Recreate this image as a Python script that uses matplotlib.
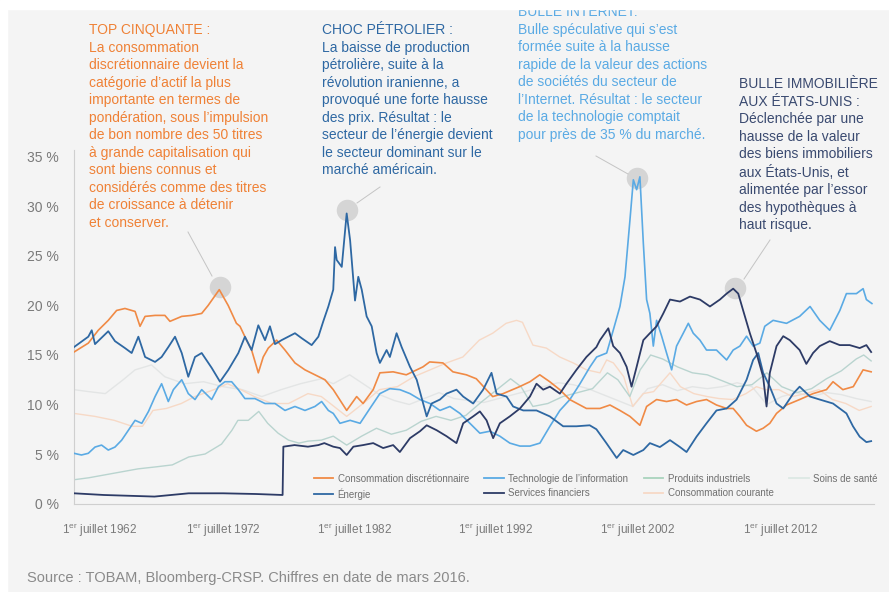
import matplotlib
matplotlib.use("Agg")
import matplotlib.pyplot as plt
from matplotlib.lines import Line2D
from matplotlib.patches import Rectangle

# =========================
# DATA (poids des secteurs, % du marché)
# =========================
cd_years = [1962.5, 1963.46, 1964.13, 1964.8, 1965.36, 1965.92, 1966.6, 1966.93, 1967.27, 1967.94,
            1968.6, 1968.94, 1969.73, 1970.4, 1971.07, 1971.5, 1972.25, 1972.85, 1973.4, 1973.64,
            1974.08, 1974.42, 1974.87, 1975.2, 1975.54, 1976.1, 1976.66, 1977.33, 1978.0, 1978.67,
            1979.34, 1979.9, 1980.8, 1981.47, 1981.9, 1982.58, 1983.03, 1983.92, 1984.8, 1985.92,
            1986.37, 1987.26, 1987.93, 1988.83, 1989.5, 1990.17, 1990.6, 1991.3, 1992.4, 1993.1,
            1993.76, 1994.43, 1995.1, 1995.77, 1996.89, 1997.8, 1998.47, 1999.14, 1999.81, 2000.48,
            2000.93, 2001.6, 2002.27, 2002.94, 2003.61, 2004.28, 2004.95, 2005.62, 2006.3, 2006.74,
            2007.19, 2007.64, 2008.3, 2008.75, 2009.2, 2009.65, 2010.32, 2011.2, 2012.1, 2013.0,
            2013.44, 2014.1, 2014.8, 2015.46, 2016.0]
cd_vals = [15.3, 16.2, 17.5, 18.5, 19.5, 19.7, 19.4, 17.9, 18.9, 19.0,
           19.0, 18.4, 18.9, 19.0, 19.2, 20.0, 21.6, 20.0, 18.2, 17.9,
           16.5, 15.5, 13.2, 14.8, 15.7, 16.5, 15.5, 14.2, 13.5, 13.0,
           12.5, 11.5, 9.4, 10.8, 10.1, 11.5, 13.2, 13.3, 13.0, 13.8,
           14.3, 14.2, 13.3, 13.0, 12.6, 11.5, 10.8, 11.1, 11.8, 12.3,
           13.0, 12.3, 11.5, 10.5, 9.6, 9.6, 9.95, 9.4, 8.8, 7.9,
           9.8, 10.5, 10.3, 10.5, 9.95, 10.3, 10.5, 9.95, 9.6, 9.6,
           8.8, 7.9, 7.3, 7.6, 8.1, 9.1, 9.95, 10.5, 11.1, 11.5,
           12.3, 11.5, 11.8, 13.5, 13.3]

en_years = [1962.5, 1963.46, 1963.69, 1963.91, 1964.8, 1965.25, 1965.92, 1966.37, 1966.82, 1967.27,
            1967.94, 1968.38, 1968.83, 1969.28, 1969.73, 1970.17, 1970.62, 1971.07, 1971.74, 1972.3,
            1972.86, 1973.53, 1973.97, 1974.42, 1974.87, 1975.32, 1975.65, 1975.99, 1976.43, 1976.88,
            1977.33, 1977.78, 1978.45, 1978.9, 1979.23, 1979.57, 1979.9, 1980.02, 1980.13, 1980.47,
            1980.8, 1981.03, 1981.36, 1981.58, 1981.81, 1982.14, 1982.48, 1982.81, 1983.03, 1983.48,
            1983.7, 1984.15, 1984.49, 1985.05, 1985.5, 1986.17, 1986.5, 1987.06, 1987.5, 1988.17,
            1988.62, 1989.29, 1989.96, 1990.52, 1990.86, 1991.53, 1991.97, 1992.65, 1993.54, 1994.43,
            1995.33, 1996.22, 1997.11, 1997.56, 1998.23, 1998.92, 1999.36, 2000.04, 2000.71, 2001.15,
            2001.82, 2002.5, 2003.17, 2003.61, 2004.28, 2004.95, 2005.62, 2006.3, 2006.97, 2007.64,
            2008.08, 2008.42, 2008.75, 2009.2, 2009.65, 2010.1, 2010.77, 2011.2, 2011.9, 2012.55,
            2013.44, 2014.34, 2014.78, 2015.23, 2015.68, 2016.0]
en_vals = [15.8, 16.85, 17.5, 16.1, 17.4, 16.4, 15.7, 15.2, 16.85, 14.8,
           14.3, 14.8, 15.8, 16.85, 15.2, 12.8, 14.8, 15.2, 13.7, 12.3,
           13.5, 15.2, 16.85, 15.5, 18.0, 16.5, 17.9, 16.1, 16.5, 16.85,
           17.2, 16.7, 16.0, 16.85, 18.4, 19.9, 21.6, 25.9, 24.6, 23.9,
           29.3, 26.6, 20.5, 22.9, 21.6, 18.9, 17.9, 15.2, 14.2, 15.5,
           14.8, 17.2, 15.8, 13.8, 12.5, 8.8, 10.1, 10.5, 11.1, 11.5,
           10.8, 10.1, 11.5, 13.2, 11.1, 10.8, 9.8, 9.4, 9.4, 8.8,
           7.8, 7.8, 7.9, 7.5, 6.1, 4.6, 5.4, 4.9, 5.4, 6.1,
           5.7, 6.4, 5.7, 5.2, 6.75, 8.1, 9.4, 9.6, 10.5, 12.5,
           14.5, 15.2, 13.2, 11.8, 10.1, 9.6, 11.1, 11.8, 10.8, 10.5,
           10.1, 9.1, 7.8, 6.75, 6.2, 6.3]

it_years = [1962.5, 1963.0, 1963.46, 1963.91, 1964.35, 1964.8, 1965.25, 1965.7, 1966.15, 1966.6,
            1967.05, 1967.5, 1967.94, 1968.38, 1968.83, 1969.17, 1969.73, 1970.17, 1970.62, 1971.07,
            1971.74, 1972.19, 1972.63, 1973.08, 1973.53, 1973.97, 1974.64, 1975.32, 1975.99, 1976.66,
            1977.33, 1978.0, 1978.67, 1979.12, 1979.57, 1979.9, 1980.35, 1981.03, 1981.7, 1982.36,
            1983.03, 1983.7, 1984.37, 1985.05, 1985.72, 1986.39, 1987.06, 1987.73, 1988.4, 1989.07,
            1989.74, 1990.41, 1991.08, 1991.75, 1992.43, 1993.1, 1993.77, 1994.44, 1995.11, 1995.78,
            1996.46, 1997.13, 1997.58, 1998.25, 1998.69, 1999.14, 1999.48, 1999.81, 2000.04, 2000.26,
            2000.48, 2000.71, 2000.93, 2001.15, 2001.38, 2001.6, 2001.94, 2002.27, 2002.61, 2002.94,
            2003.39, 2003.73, 2004.06, 2004.51, 2004.95, 2005.62, 2006.3, 2006.74, 2007.19, 2007.64,
            2008.08, 2008.53, 2008.86, 2009.42, 2010.32, 2011.2, 2011.9, 2012.55, 2013.22, 2013.9,
            2014.34, 2015.01, 2015.46, 2015.68, 2016.05]
it_vals = [5.07, 4.9, 5.07, 5.7, 5.9, 5.4, 5.7, 6.4, 7.4, 8.4,
           8.1, 9.3, 10.8, 12.1, 10.3, 11.5, 12.5, 11.1, 10.5, 11.5,
           10.5, 11.8, 12.3, 12.3, 11.5, 10.6, 10.6, 10.1, 10.1, 9.4,
           9.8, 9.4, 9.8, 10.3, 9.4, 9.1, 8.1, 8.4, 8.1, 9.6,
           11.1, 11.6, 11.5, 11.1, 10.5, 10.1, 9.4, 9.8, 9.1, 8.1,
           7.1, 7.3, 6.8, 6.1, 5.8, 5.8, 6.1, 7.8, 9.4, 10.5,
           12.1, 13.8, 14.8, 15.2, 17.5, 19.9, 22.9, 28.6, 32.7, 31.7,
           33.0, 26.3, 20.6, 19.2, 15.9, 18.5, 16.9, 15.2, 13.5, 15.9,
           17.2, 18.2, 17.2, 16.5, 15.5, 15.5, 14.5, 15.5, 15.9, 16.9,
           15.9, 16.2, 17.9, 18.5, 18.2, 18.9, 19.9, 18.5, 17.5, 19.5,
           21.2, 21.2, 21.7, 20.6, 20.2]

fin_years = [1962.5, 1964.5, 1967.9, 1970.2, 1972.5, 1974.7, 1976.5, 1976.55, 1977.3, 1978.2,
             1978.9, 1979.3, 1979.9, 1980.35, 1980.8, 1981.25, 1981.9, 1982.58, 1983.25, 1983.92,
             1984.37, 1985.05, 1985.72, 1986.17, 1986.84, 1987.5, 1988.17, 1988.62, 1989.29, 1989.74,
             1990.19, 1990.63, 1991.08, 1991.75, 1992.43, 1993.1, 1993.54, 1993.99, 1994.44, 1995.11,
             1995.55, 1996.22, 1996.89, 1997.56, 1997.8, 1998.36, 1998.69, 1999.14, 1999.59, 1999.92,
             2000.26, 2000.71, 2001.15, 2001.6, 2002.05, 2002.5, 2003.17, 2003.84, 2004.51, 2005.18,
             2005.85, 2006.3, 2006.74, 2007.08, 2007.41, 2007.86, 2008.3, 2008.75, 2008.98, 2009.2,
             2009.65, 2010.1, 2010.54, 2011.2, 2011.65, 2012.1, 2012.55, 2013.22, 2013.89, 2014.56,
             2015.23, 2015.68, 2016.0]
fin_vals = [1.03, 0.86, 0.7, 1.03, 1.03, 0.96, 0.86, 5.74, 5.9, 5.74,
            5.9, 6.1, 5.74, 5.6, 4.9, 5.74, 5.9, 6.1, 5.6, 5.9,
            5.2, 6.6, 7.3, 7.9, 7.4, 6.8, 6.1, 8.1, 8.8, 9.3,
            8.4, 6.6, 8.1, 8.8, 9.6, 10.8, 12.1, 11.5, 11.8, 11.1,
            12.1, 13.5, 14.8, 15.8, 16.5, 17.7, 15.9, 15.2, 13.8, 11.8,
            13.8, 16.5, 17.2, 17.9, 19.2, 20.6, 20.4, 20.9, 20.6, 19.9,
            20.6, 21.2, 21.7, 21.2, 19.5, 17.2, 15.2, 12.8, 9.8, 13.2,
            15.9, 16.9, 16.5, 15.5, 14.1, 15.2, 15.9, 16.4, 16.0, 16.0,
            15.7, 16.0, 15.3]

ind_years = [1962.5, 1963.5, 1964.6, 1965.7, 1966.8, 1968.0, 1969.1, 1970.2, 1971.3, 1972.4,
             1973.1, 1973.5, 1974.2, 1974.9, 1975.5, 1976.2, 1976.9, 1977.6, 1978.2, 1979.1,
             1979.9, 1980.8, 1981.8, 1982.8, 1983.8, 1984.8, 1985.8, 1986.8, 1987.8, 1988.8,
             1989.8, 1990.8, 1991.8, 1992.5, 1993.3, 1994.3, 1995.3, 1996.3, 1997.3, 1998.3,
             1999.0, 1999.8, 2000.5, 2001.2, 2002.0, 2003.0, 2004.0, 2005.0, 2006.0, 2007.0,
             2008.0, 2009.0, 2010.0, 2011.0, 2012.0, 2013.0, 2014.0, 2015.0, 2015.5, 2016.0]
ind_vals = [2.4, 2.6, 2.9, 3.2, 3.5, 3.7, 3.9, 4.7, 5.0, 6.0,
            7.4, 8.4, 8.4, 9.3, 8.1, 7.1, 6.4, 6.1, 6.3, 6.4,
            6.8, 5.9, 6.8, 7.6, 7.0, 7.4, 8.3, 8.8, 8.4, 8.9,
            10.2, 11.4, 12.6, 11.8, 9.8, 10.1, 10.8, 11.2, 11.6, 13.2,
            12.5, 10.8, 13.5, 15.0, 14.6, 13.8, 13.2, 13.0, 12.4, 11.8,
            12.0, 13.2, 11.8, 11.2, 11.6, 12.6, 13.4, 14.6, 15.0, 14.4]

cc_years = [1962.5, 1963.9, 1965.2, 1966.4, 1967.1, 1967.8, 1968.7, 1969.7, 1970.6, 1971.9,
            1972.8, 1973.7, 1974.6, 1975.8, 1976.9, 1978.2, 1979.1, 1979.7, 1980.8, 1981.9,
            1983.0, 1984.2, 1985.3, 1986.4, 1987.5, 1988.6, 1989.7, 1990.6, 1991.5, 1992.2,
            1992.6, 1993.3, 1994.2, 1995.1, 1996.0, 1996.9, 1997.8, 1998.25, 1998.7, 1999.4,
            2000.0, 2000.7, 2001.4, 2002.5, 2003.2, 2004.1, 2005.0, 2005.8, 2006.7, 2007.6,
            2008.3, 2008.9, 2009.8, 2010.7, 2011.6, 2012.5, 2013.4, 2014.3, 2015.2, 2016.0]
cc_vals = [9.1, 8.8, 8.4, 7.8, 7.8, 9.4, 9.6, 10.1, 10.8, 11.5,
           12.1, 11.5, 10.8, 10.1, 10.1, 11.1, 10.8, 10.1, 8.8, 10.1,
           11.5, 11.8, 12.8, 13.5, 14.2, 14.8, 16.5, 17.2, 18.2, 18.5,
           18.3, 16.0, 15.7, 14.8, 14.2, 13.5, 13.2, 14.5, 14.2, 12.8,
           9.8, 11.1, 11.3, 13.2, 11.8, 11.1, 10.8, 10.6, 10.5, 11.1,
           11.8, 11.5, 11.5, 10.8, 11.1, 11.5, 10.5, 10.1, 9.4, 9.8]

hc_years = [1962.5, 1963.5, 1964.6, 1965.8, 1966.6, 1967.7, 1968.6, 1969.9, 1971.2, 1972.5,
            1973.8, 1975.1, 1976.4, 1977.7, 1979.1, 1979.9, 1981.0, 1982.0, 1983.0, 1984.0,
            1985.0, 1986.0, 1987.0, 1988.0, 1989.0, 1990.0, 1991.0, 1992.0, 1993.0, 1994.0,
            1995.0, 1996.0, 1997.0, 1998.0, 1999.0, 2000.0, 2001.0, 2002.0, 2003.0, 2004.0,
            2005.0, 2006.0, 2007.0, 2008.0, 2009.0, 2010.0, 2011.0, 2012.0, 2013.0, 2014.0,
            2015.0, 2016.0]
hc_vals = [11.5, 11.3, 11.1, 12.5, 13.5, 14.0, 12.8, 12.1, 12.3, 11.8,
           11.5, 10.8, 11.5, 12.1, 12.6, 12.1, 13.0, 12.0, 11.0, 10.4,
           10.0, 10.6, 11.2, 10.6, 10.4, 10.2, 10.6, 11.0, 11.4, 11.8,
           12.2, 12.0, 11.6, 11.0, 10.4, 9.8, 11.6, 12.0, 11.4, 11.8,
           11.6, 11.8, 12.2, 11.8, 10.0, 10.8, 11.2, 10.8, 11.2, 11.0,
           10.6, 10.3]

tick_years = ["1962", "1972", "1982", "1992", "2002", "2012"]

# =========================
# STYLE / LAYOUT
# =========================
W, H = 889, 592
BG = "#f4f4f4"
plt.rcParams["font.family"] = ["Liberation Sans", "DejaVu Sans"]
plt.rcParams["mathtext.fontset"] = "custom"
plt.rcParams["mathtext.rm"] = "Liberation Sans"

C_CD = "#f08a45"
C_EN = "#2e68a3"
C_IT = "#5aaae4"
C_FIN = "#2d3b66"
C_IND = "#b9d4cf"
C_CC = "#f7d9c6"
C_HC = "#e3e5e5"


def fxy(x, y):
    """pixel (top-left origin) -> figure fraction"""
    return x / W, 1 - y / H


def yr(px):
    """pixel column -> year on the axis"""
    return 1962.5 + (px - 74) / 14.9


fig = plt.figure(figsize=(W / 100, H / 100), dpi=100)
fig.patch.set_facecolor(BG)

ax = fig.add_axes([74 / W, (H - 503.5) / H, 800 / W, 353.5 / H])
ax.set_facecolor(BG)
ax.set_xlim(1962.5, yr(874))
ax.set_ylim(0, 353.5 / 9.9)

for s in ["top", "right"]:
    ax.spines[s].set_visible(False)
for s in ["left", "bottom"]:
    ax.spines[s].set_color("#cfcfcf")
    ax.spines[s].set_linewidth(0.8)

# faint series first
ax.plot(hc_years, hc_vals, color=C_HC, lw=1.0, zorder=2)
ax.plot(cc_years, cc_vals, color=C_CC, lw=1.0, zorder=2)
ax.plot(ind_years, ind_vals, color=C_IND, lw=1.0, zorder=2)

# annotation circles (behind the lines)
ax.scatter([1972.3, 1980.85, 2000.3, 2006.85], [21.9, 29.6, 32.9, 21.8],
           s=240, color="#d5d5d5", linewidths=0, zorder=1.5)

ax.plot(it_years, it_vals, color=C_IT, lw=1.2, zorder=3)
ax.plot(cd_years, cd_vals, color=C_CD, lw=1.2, zorder=4)
ax.plot(en_years, en_vals, color=C_EN, lw=1.3, zorder=5)
ax.plot(fin_years, fin_vals, color=C_FIN, lw=1.3, zorder=5)

# axes ticks
ax.set_yticks(range(0, 36, 5))
ax.set_yticklabels([f"{v} %" for v in range(0, 36, 5)])
ax.set_xticks([yr(p) for p in [100, 223, 355, 496, 638, 781]])
ax.set_xticklabels([r"1$^{\mathrm{er}}$ juillet " + y for y in tick_years])
ax.tick_params(axis="both", length=0, colors="#7a7a7a")
ax.tick_params(axis="y", pad=11, labelsize=10)
ax.tick_params(axis="x", pad=13, labelsize=8.5)

# legend
handles = [
    Line2D([], [], color=C_CD, lw=1.3, label="Consommation discrétionnaire"),
    Line2D([], [], color=C_EN, lw=1.3, label="Énergie"),
    Line2D([], [], color=C_IT, lw=1.3, label="Technologie de l’information"),
    Line2D([], [], color=C_FIN, lw=1.3, label="Services financiers"),
    Line2D([], [], color="#a9d3bd", lw=1.3, label="Produits industriels"),
    Line2D([], [], color=C_CC, lw=1.3, label="Consommation courante"),
    Line2D([], [], color="#dce8e4", lw=1.3, label="Soins de santé"),
]
leg = fig.legend(handles=handles, ncol=4, loc="upper left",
                 bbox_to_anchor=fxy(307, 467), frameon=False,
                 fontsize=7, handlelength=2.0, handletextpad=0.45,
                 columnspacing=1.6, labelspacing=0.45, borderpad=0.2)
for t in leg.get_texts():
    t.set_color("#707070")

# annotation texts
txt_top = ("TOP CINQUANTE :\nLa consommation\ndiscrétionnaire devient la\n"
           "catégorie d’actif la plus\nimportante en termes de\n"
           "pondération, sous l’impulsion\nde bon nombre des 50 titres\n"
           "à grande capitalisation qui\nsont biens connus et\n"
           "considérés comme des titres\nde croissance à détenir\net conserver.")
txt_choc = ("CHOC PÉTROLIER :\nLa baisse de production\npétrolière, suite à la\n"
            "révolution iranienne, a\nprovoqué une forte hausse\n"
            "des prix. Résultat : le\nsecteur de l’énergie devient\n"
            "le secteur dominant sur le\nmarché américain.")
txt_web = ("BULLE INTERNET:\nBulle spéculative qui s’est\nformée suite à la hausse\n"
           "rapide de la valeur des actions\nde sociétés du secteur de\n"
           "l’Internet. Résultat : le secteur\nde la technologie comptait\n"
           "pour près de 35 % du marché.")
txt_immo = ("BULLE IMMOBILIÈRE\nAUX ÉTATS-UNIS :\nDéclenchée par une\n"
            "hausse de la valeur\ndes biens immobiliers\naux États-Unis, et\n"
            "alimentée par l’essor\ndes hypothèques à\nhaut risque.")

for txt, (x, y), col in [(txt_top, (89, 23), "#ef8136"),
                         (txt_choc, (322, 23), C_EN),
                         (txt_web, (518, 5), C_IT),
                         (txt_immo, (739, 77), "#3a4a70")]:
    fig.text(*fxy(x, y), txt, color=col, fontsize=10, ha="left", va="top",
             linespacing=1.32)

# leader lines
for (x0, y0), (x1, y1) in [((212, 276), (188, 232)),
                           ((357, 203), (380, 187)),
                           ((628, 174), (596, 156)),
                           ((744, 279), (770, 240))]:
    a, b = fxy(x0, y0)
    c, d = fxy(x1, y1)
    fig.add_artist(Line2D([a, c], [b, d], color="#c4c4c4", lw=0.7))

# white margins of the original page
fig.add_artist(Rectangle((0, 1 - 9 / H), 1, 9 / H, transform=fig.transFigure,
                         color="white", zorder=10))
fig.add_artist(Rectangle((0, 0), 7 / W, 1, transform=fig.transFigure,
                         color="white", zorder=10))

fig.text(*fxy(27, 578), "Source : TOBAM, Bloomberg-CRSP. Chiffres en date de mars 2016.",
         fontsize=10.5, color="#8a8a8a", ha="left", va="center")

fig.savefig("out.png", dpi=100, facecolor=fig.get_facecolor())
